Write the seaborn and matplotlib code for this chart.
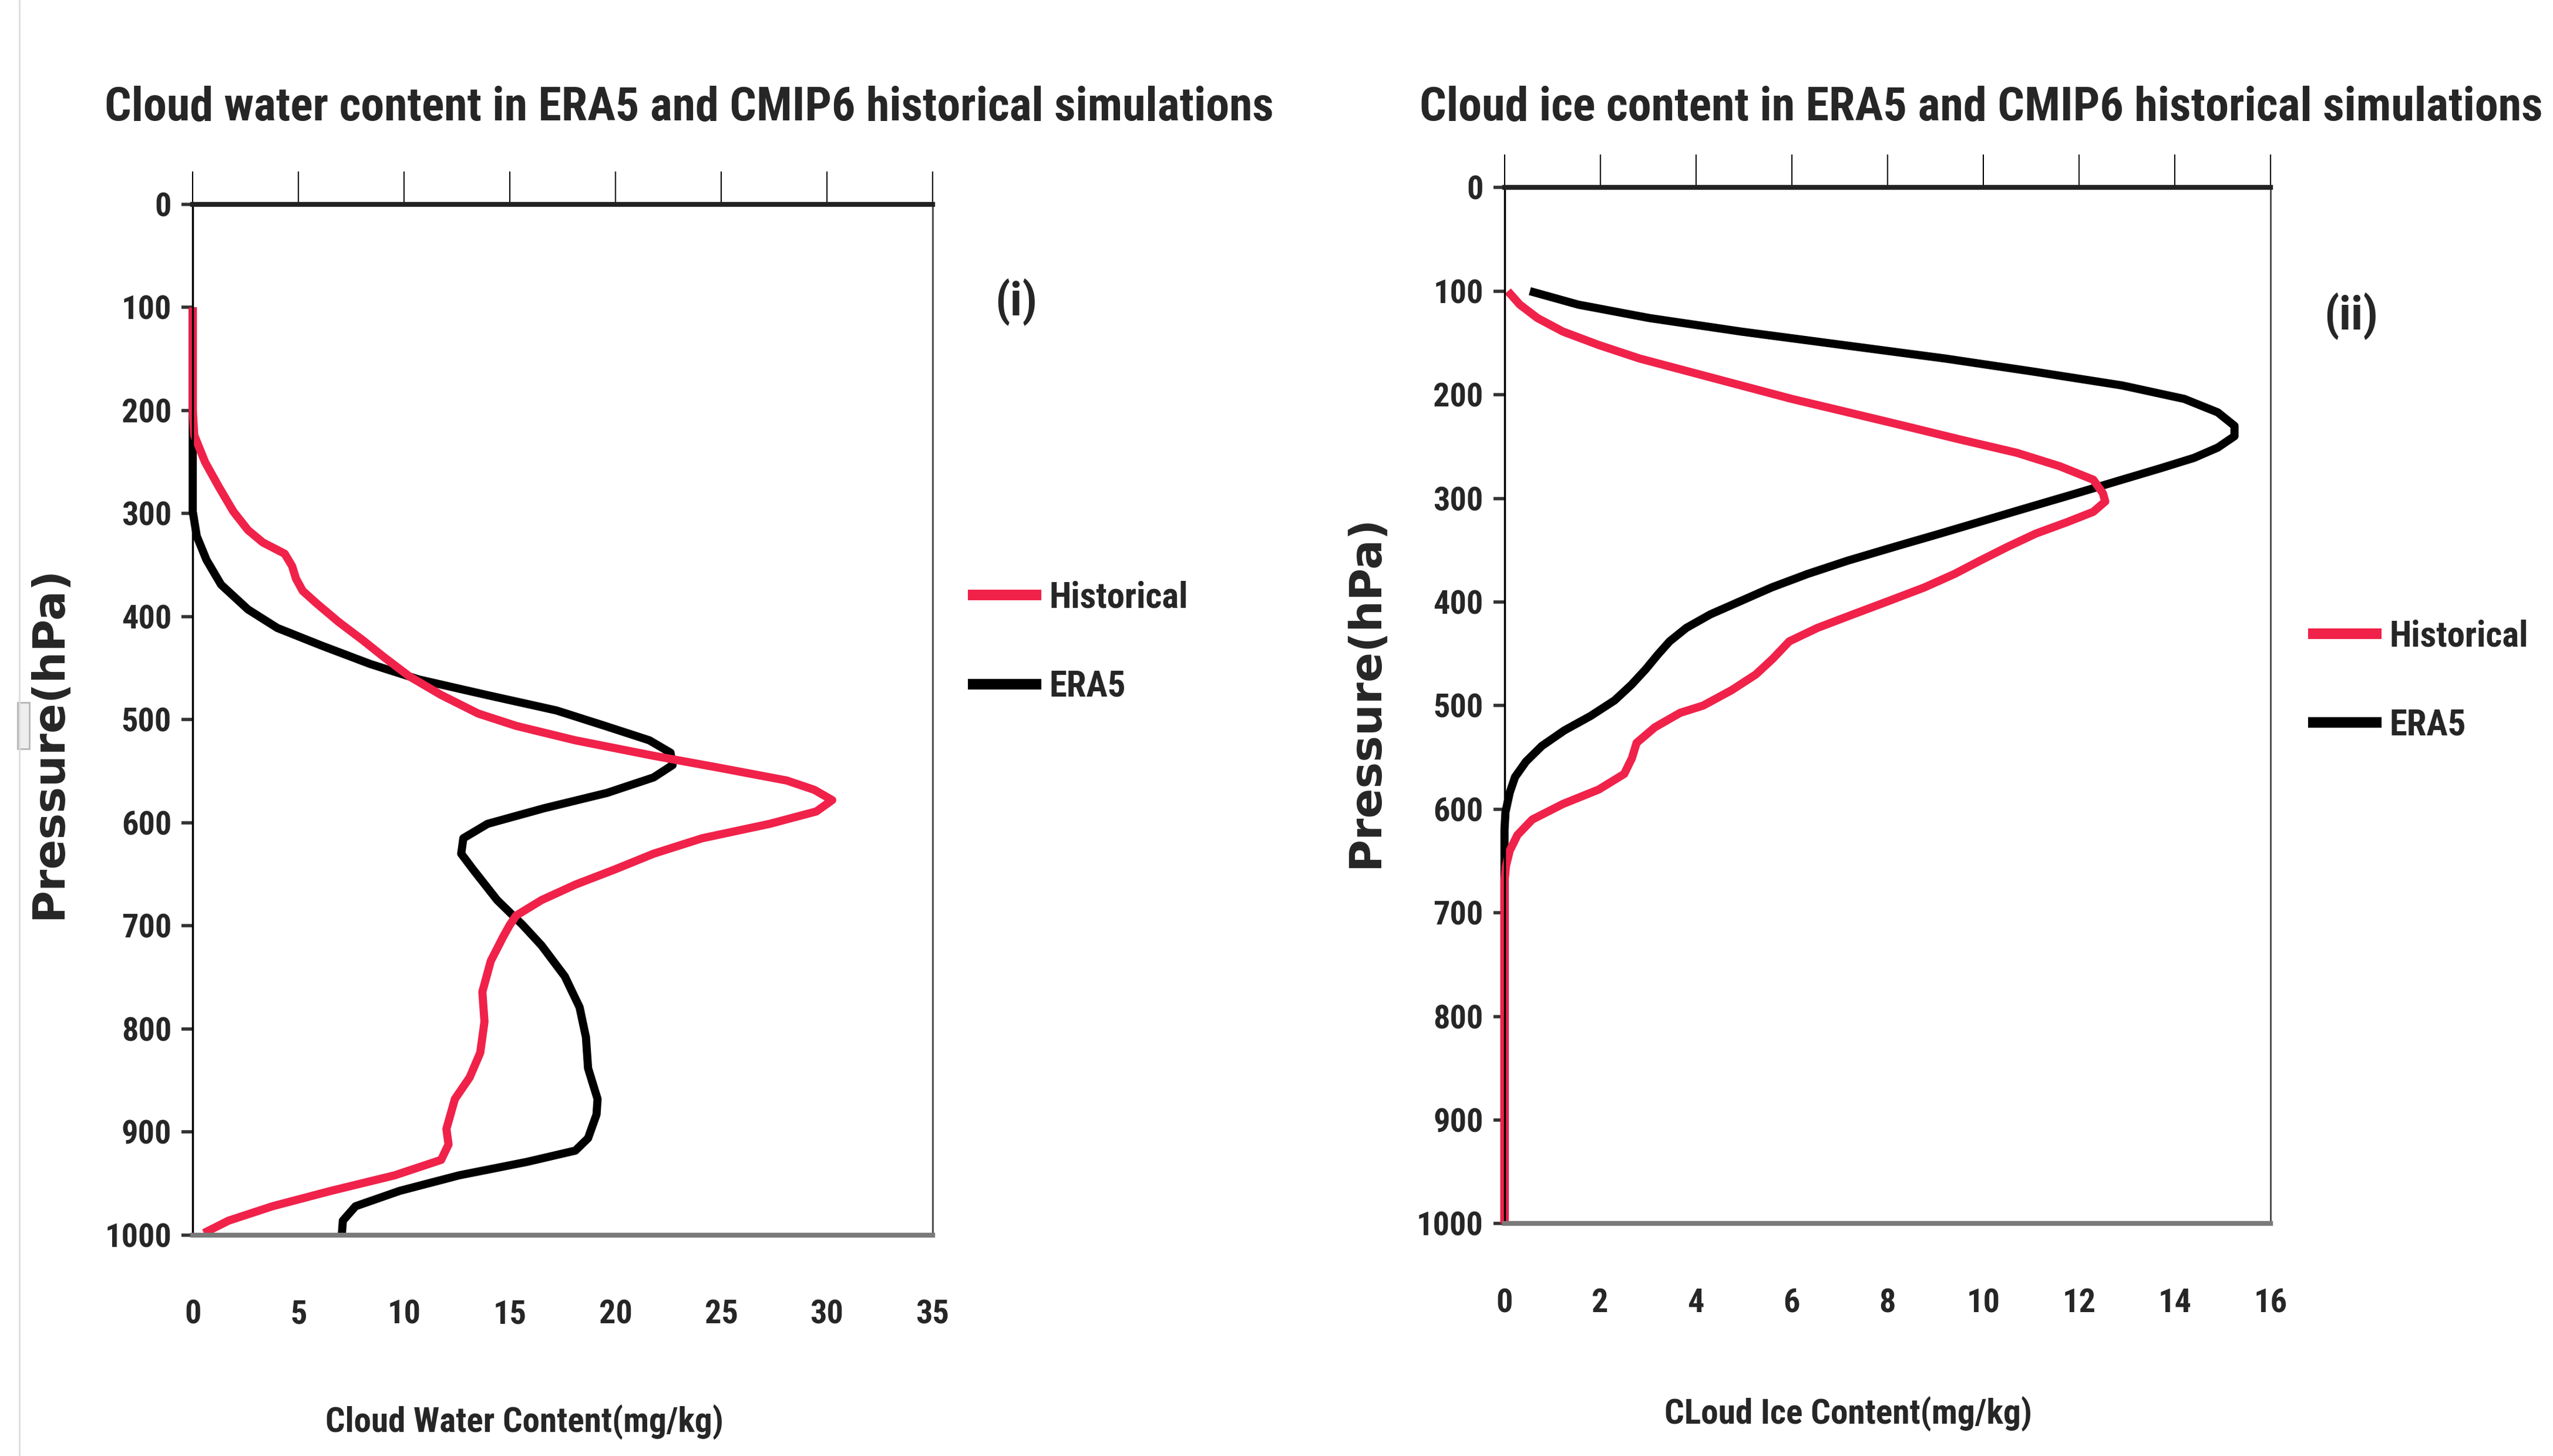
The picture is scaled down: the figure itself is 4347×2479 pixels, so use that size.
import matplotlib
matplotlib.use("Agg")
import matplotlib.pyplot as plt
import numpy as np
import pandas as pd
import seaborn as sns
from matplotlib import font_manager

# pressure levels (hPa) and values
water_hist_p = [100, 150, 200, 224, 250, 274, 298, 316, 328, 339, 351, 363, 375, 387, 405, 423, 440, 458, 476,
                494, 506, 520, 535, 547, 559, 568, 578, 589, 601, 615, 630, 645, 660, 675, 690, 699, 710, 734,
                764, 793, 823, 847, 868, 897, 912, 927, 942, 957, 972, 986, 998]
water_hist = [0, 0, 0, 0.07, 0.58, 1.23, 1.92, 2.61, 3.31, 4.35, 4.7, 4.88, 5.2, 5.85, 6.89, 8.05, 9.09, 10.25,
              11.75, 13.5, 15.3, 18.1, 21.8, 25.0, 28.1, 29.4, 30.25, 29.5, 27.3, 24.1, 21.8, 20.0, 18.1, 16.5,
              15.3, 15.0, 14.7, 14.1, 13.7, 13.8, 13.6, 13.1, 12.4, 12.0, 12.1, 11.75, 9.55, 6.55, 3.77, 1.69,
              0.53]

water_era5_p = [100, 150, 200, 250, 298, 322, 345, 369, 393, 411, 428, 446, 461, 476, 491, 506, 520, 532, 544,
                556, 571, 586, 601, 615, 630, 645, 675, 699, 719, 749, 779, 808, 838, 868, 883, 906, 918, 929,
                942, 957, 972, 986, 1000]
water_era5 = [0, 0, 0, 0, 0, 0.19, 0.65, 1.34, 2.61, 4.0, 6.08, 8.4, 10.7, 13.9, 17.2, 19.5, 21.6, 22.6, 22.7,
              21.8, 19.6, 16.6, 13.95, 12.8, 12.7, 13.25, 14.4, 15.6, 16.5, 17.6, 18.3, 18.6, 18.7, 19.15, 19.1,
              18.7, 18.1, 15.8, 12.6, 9.8, 7.7, 7.1, 7.05]

ice_hist_p = [100, 113, 126, 139, 152, 165, 178, 191, 204, 217, 230, 243, 256, 269, 282, 295, 303, 313, 323,
              334, 347, 360, 373, 386, 399, 412, 425, 438, 455, 470, 485, 500, 507, 521, 536, 551, 566, 581,
              595, 610, 625, 640, 655, 670, 700, 800, 900, 1000]
ice_hist = [0.07, 0.32, 0.69, 1.22, 1.97, 2.82, 3.88, 4.94, 6.0, 7.18, 8.35, 9.5, 10.7, 11.6, 12.3, 12.5, 12.55,
            12.3, 11.75, 11.1, 10.5, 9.94, 9.4, 8.77, 8.03, 7.28, 6.54, 5.95, 5.6, 5.25, 4.75, 4.15, 3.67, 3.14,
            2.76, 2.66, 2.5, 1.97, 1.22, 0.58, 0.27, 0.11, 0.03, 0, 0, 0, 0, 0]

ice_era5_p = [100, 113, 126, 139, 152, 165, 178, 191, 204, 217, 230, 240, 251, 261, 271, 282, 295, 308, 321,
              334, 347, 360, 373, 386, 399, 412, 425, 438, 451, 465, 480, 495, 510, 524, 539, 554, 569, 584,
              603, 620, 700, 800, 900, 1000]
ice_era5 = [0.53, 1.54, 3.03, 4.94, 7.07, 9.2, 11.1, 12.9, 14.2, 14.9, 15.25, 15.25, 14.9, 14.4, 13.7, 12.9,
            11.96, 11.0, 10.05, 9.1, 8.13, 7.18, 6.33, 5.58, 4.94, 4.3, 3.8, 3.45, 3.2, 2.95, 2.65, 2.3, 1.8,
            1.25, 0.78, 0.45, 0.22, 0.11, 0.02, 0, 0, 0, 0, 0]

RED = "#F0224A"
BLACK = "#000000"


def pick_narrow():
    cands = {}
    for f in font_manager.fontManager.ttflist:
        nm = f.name
        st = str(f.stretch).lower()
        if "narrow" in nm.lower() or "condensed" in nm.lower():
            cands.setdefault(nm, "normal")
        elif "condensed" in st:
            cands.setdefault(nm, st)
    for pref in ["Liberation Sans Narrow", "Arial Narrow", "Roboto Condensed", "Noto Sans",
                 "Open Sans", "DejaVu Sans Condensed", "DejaVu Sans", "Roboto", "Lato", "Inter"]:
        if pref in cands:
            return pref, cands[pref]
    return "Liberation Sans", "normal"


sns.set_theme(style="white")
narrow, stretch = pick_narrow()
plt.rcParams["font.family"] = [narrow, "DejaVu Sans"]
plt.rcParams["font.stretch"] = stretch
plt.rcParams["font.weight"] = "bold"


def make_df(hp, hv, ep, ev):
    a = pd.DataFrame({"pressure": ep, "value": ev, "source": "ERA5"})
    b = pd.DataFrame({"pressure": hp, "value": hv, "source": "Historical"})
    return pd.concat([a, b], ignore_index=True)


fig = plt.figure(figsize=(43.47, 24.79), dpi=100)
ax1 = fig.add_axes([0.0755, 0.1517, 0.2898, 0.708])
ax2 = fig.add_axes([0.5893, 0.1596, 0.300, 0.7116])

panels = [
    (ax1, make_df(water_hist_p, water_hist, water_era5_p, water_era5), 35, 5),
    (ax2, make_df(ice_hist_p, ice_hist, ice_era5_p, ice_era5), 16, 2),
]

TOP_TICK = 40
for ax, df, xmax, xstep in panels:
    sns.lineplot(data=df, x="value", y="pressure", hue="source", hue_order=["ERA5", "Historical"],
                 palette={"ERA5": BLACK, "Historical": RED}, sort=False, estimator=None,
                 linewidth=10, legend=False, ax=ax)
    for ln in ax.get_lines():
        ln.set_solid_capstyle("butt")
        ln.set_solid_joinstyle("round")
        ln.set_clip_on(False)
    ax.set_xlim(0, xmax)
    ax.set_ylim(1000, 0)
    ax.set_xticks(np.arange(0, xmax + 0.1, xstep))
    ax.set_yticks(np.arange(0, 1001, 100))
    ax.set_xlabel("")
    ax.set_ylabel("")
    ax.tick_params(axis="x", top=True, bottom=False, labeltop=False, labelbottom=True,
                   direction="out", length=TOP_TICK, width=1.5, color="black", labelsize=40)
    ax.tick_params(axis="y", left=True, direction="out", length=14, width=4, color="#333333",
                   pad=12, labelsize=40)
    ax.spines["top"].set_color("#222222")
    ax.spines["top"].set_linewidth(6)
    ax.spines["bottom"].set_color("#7a7a7a")
    ax.spines["bottom"].set_linewidth(6)
    ax.spines["left"].set_color("black")
    ax.spines["left"].set_linewidth(2.5)
    ax.spines["right"].set_color("#444444")
    ax.spines["right"].set_linewidth(2)

renderer = fig.canvas.get_renderer()


def fit(t, target, along="width"):
    bb = t.get_window_extent(renderer)
    size = bb.width if along == "width" else bb.height
    t.set_fontsize(t.get_fontsize() * target / size)
    return t


# titles, panel labels, axis labels (sizes fitted to the widths in the picture)
fit(fig.text(0.270, 0.926, "Cloud water content in ERA5 and CMIP6 historical simulations",
             ha="center", va="center", fontsize=40, fontweight="bold"), 1988)
fit(fig.text(0.776, 0.926, "Cloud ice content in ERA5 and CMIP6 historical simulations",
             ha="center", va="center", fontsize=40, fontweight="bold"), 1911)
fit(fig.text(0.398, 0.793, "(i)", ha="center", va="center", fontsize=40, fontweight="bold"), 72)
fit(fig.text(0.921, 0.783, "(ii)", ha="center", va="center", fontsize=40, fontweight="bold"), 92)
fit(fig.text(0.2054, 0.035, "Cloud Water Content(mg/kg)", ha="center", va="top", fontsize=40,
             fontweight="bold"), 676)
fit(fig.text(0.724, 0.041, "CLoud Ice Content(mg/kg)", ha="center", va="top", fontsize=40,
             fontweight="bold"), 626)
for x, y in [(0.0193, 0.490), (0.535, 0.525)]:
    fit(fig.text(x, y, "Pressure(hPa)", ha="center", va="center", rotation=90, fontsize=40,
                 fontweight="bold", family=["DejaVu Sans"]), 600, along="height")

# tick label size from the width of "1000"
fig.canvas.draw()
probe = [t for t in ax1.get_yticklabels() if t.get_text() == "1000"][0]
tick_fs = 40 * 114 / probe.get_window_extent(renderer).width
for ax in (ax1, ax2):
    ax.tick_params(labelsize=tick_fs)
fig.canvas.draw()
h = ax1.get_xticklabels()[0].get_window_extent(renderer).height
x_pad = (136 - h / 2) * 0.72 - TOP_TICK
for ax in (ax1, ax2):
    ax.tick_params(axis="x", pad=x_pad)

# legends
tmp = fig.text(0, 0, "Historical", fontsize=40, fontweight="bold")
bb = tmp.get_window_extent(renderer)
leg_fs = 40 * 236 / bb.width
leg_h = bb.height * leg_fs / 40
tmp.remove()
fs_px = leg_fs * 100 / 72
for ax, xa, ya in [(ax1, 0.379, 0.559), (ax2, 0.904, 0.5325)]:
    lines = ax.get_lines()
    leg = ax.legend([lines[1], lines[0]], ["Historical", "ERA5"], loc="center left",
                    bbox_to_anchor=(xa, ya), bbox_transform=fig.transFigure, frameon=False,
                    borderpad=0, borderaxespad=0, handlelength=125 / fs_px, handletextpad=14 / fs_px,
                    labelspacing=max(150 - leg_h, 0) / fs_px, prop={"size": leg_fs, "weight": "bold"})
    for hd in leg.legend_handles:
        hd.set_linewidth(13)

# faint frame line on the left edge and the small grey box beside it
fig.add_artist(plt.Line2D([0.0075, 0.0075], [0.0, 1.0], color="#dddddd", linewidth=2))
fig.add_artist(plt.Rectangle((0.0069, 0.4857), 0.0046, 0.032, transform=fig.transFigure,
                             facecolor="#eeeeee", edgecolor="#b5b5b5", linewidth=2))

fig.savefig("out.png", dpi=100)
